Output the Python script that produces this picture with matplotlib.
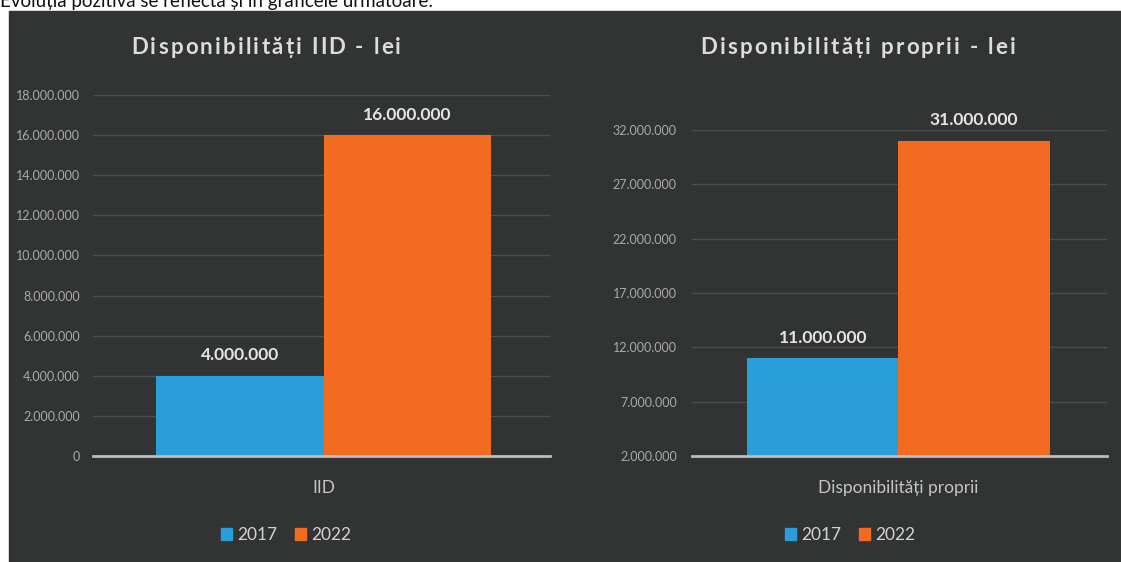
import matplotlib
matplotlib.use('Agg')
import matplotlib.pyplot as plt
from matplotlib.patches import Rectangle, Patch

# data
categories = ['IID', 'Disponibilități proprii']
titles = ['Disponibilități IID - lei', 'Disponibilități proprii - lei']
years = ['2017', '2022']
values_2017 = [4000000, 11000000]
values_2022 = [16000000, 31000000]
left_ticks = [0, 2000000, 4000000, 6000000, 8000000, 10000000, 12000000, 14000000, 16000000, 18000000]
right_ticks = [2000000, 7000000, 12000000, 17000000, 22000000, 27000000, 32000000]
header = 'Evoluția pozitivă se reflectă și în graficele următoare:'

BG = '#323434'
BLUE = '#2a9ed9'
ORANGE = '#f16c20'
W, H = 1121, 562

plt.rcParams['font.family'] = ['Lato', 'DejaVu Sans']


def fmt(v):
    return f'{v:,}'.replace(',', '.')


def spaced_text(fig, text, cx, cy, size, spacing, **kw):
    # draw text letter by letter, to get the wide letter spacing of the original
    r = fig.canvas.get_renderer()

    def width(s):
        t = fig.text(0, 0, s, fontsize=size, **kw)
        w = t.get_window_extent(r).width
        t.remove()
        return w

    base = width('||')
    widths = [width('|' + ch + '|') - base for ch in text]
    total = sum(widths) + spacing * (len(text) - 1)
    x = cx - total / 2
    for ch, w in zip(text, widths):
        fig.text(x / W, 1 - cy / H, ch, fontsize=size, ha='left', va='center', **kw)
        x += w + spacing


fig = plt.figure(figsize=(W / 100, H / 100), dpi=100)
fig.patch.set_facecolor('white')
fig.patches.append(Rectangle((9 / W, 0), 1, (H - 11) / H, transform=fig.transFigure,
                             color=BG, zorder=-5))
fig.text(0, 1 - 7 / H, header, fontsize=13.5, color='#111111', ha='left', va='baseline')

panels = [
    dict(rect=[93 / W, 106 / H, 457 / W, 361 / H], ylim=(0, 18000000), ticks=left_ticks,
         xlim=(-0.482, 0.473), pad=9.5, title_x=266, legend_x=286, label_x=324),
    dict(rect=[692 / W, 106 / H, 415 / W, 326 / H], ylim=(2000000, 32000000), ticks=right_ticks,
         xlim=(-0.477, 0.482), pad=11, title_x=858, legend_x=850, label_x=900),
]

w = 0.35
for i, p in enumerate(panels):
    ax = fig.add_axes(p['rect'])
    ax.set_facecolor('none')
    b1 = ax.bar([-w / 2], [values_2017[i]], w, color=BLUE, zorder=3)
    b2 = ax.bar([w / 2], [values_2022[i]], w, color=ORANGE, zorder=3)
    for bars in (b1, b2):
        for bar in bars:
            ax.annotate(fmt(bar.get_height()), (bar.get_x() + bar.get_width() / 2, bar.get_height()),
                        xytext=(0, 9), textcoords='offset points', ha='center', va='bottom',
                        fontsize=12.5, fontweight='bold', color='#e4e4e4')
    ax.set_ylim(*p['ylim'])
    ax.set_xlim(*p['xlim'])
    ax.set_yticks(p['ticks'])
    ax.set_yticklabels([fmt(t) for t in p['ticks']], fontsize=9, color='#a9a9a9')
    ax.set_xticks([0])
    ax.set_xticklabels([categories[i]], fontsize=12.5, color='#c4c4c4')
    ax.tick_params(axis='x', length=0, pad=17)
    ax.tick_params(axis='y', length=0, pad=p['pad'])
    for s in ax.spines.values():
        s.set_visible(False)
    ax.yaxis.grid(True, color='#4c4f50', linewidth=1, zorder=0)
    ax.set_axisbelow(True)
    ax.axhline(p['ylim'][0], color='#bdbdbd', linewidth=2, zorder=4, clip_on=False)

    spaced_text(fig, titles[i], p['title_x'], 47, 16, 2.2, color='#dcdcdc', fontweight='bold')

    handles = [Patch(color=BLUE, label=years[0]), Patch(color=ORANGE, label=years[1])]
    fig.legend(handles=handles, loc='center', bbox_to_anchor=(p['legend_x'] / W, 1 - 535 / H),
               ncol=2, frameon=False, fontsize=12.5, labelcolor='#d2d2d2',
               handlelength=0.65, handleheight=0.65, handletextpad=0.3, columnspacing=1.0)

fig.savefig('out.png', dpi=100, facecolor=fig.get_facecolor())
